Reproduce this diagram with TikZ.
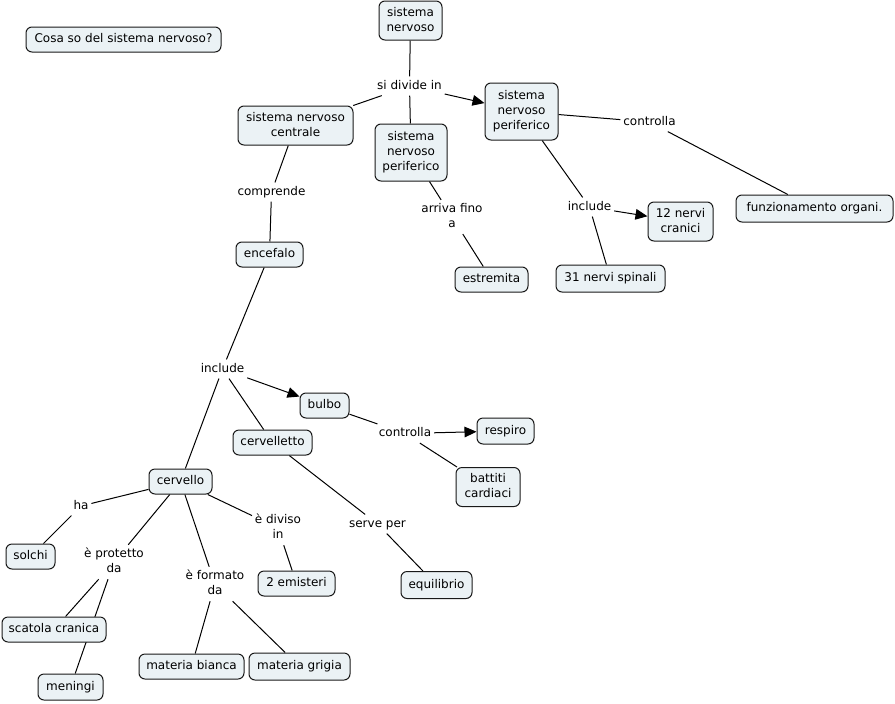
\documentclass[tikz,border=0pt]{standalone}
\usepackage{fontspec}
\setmainfont{DejaVu Sans}
\usetikzlibrary{arrows.meta,backgrounds}
\definecolor{cfill}{RGB}{235,242,245}
\definecolor{cline}{RGB}{25,25,25}
\newcommand{\sr}{\rule[-2pt]{0pt}{9pt}}
\begin{document}
\begin{tikzpicture}[x=0.75pt,y=-0.75pt,
  txt/.style={font=\fontsize{9pt}{11.25pt}\selectfont,align=center},
  concept/.style={txt,draw=cline,line width=0.75pt,fill=cfill,rounded corners=4.5pt,inner sep=0pt},
  sz/.style 2 args={minimum width=#1*0.75pt,minimum height=#2*0.75pt},
  lbl/.style={txt,inner xsep=2pt,inner ysep=2.5pt},
  link/.style={draw=black,line width=0.75pt},
  arr/.style={link,-{Triangle[length=9pt,width=8pt]}}]
\path[use as bounding box] (0,0) rectangle (895,703);
% concepts
\node[concept,sz={195}{25}] (q) at (123.5,39.5) {\sr Cosa so del sistema nervoso?};
\node[concept,sz={63}{39}] (sn) at (410.5,20.5) {\sr sistema\\\sr nervoso};
\node[concept,sz={115}{39}] (snc) at (295.5,125.5) {\sr sistema nervoso\\\sr centrale};
\node[concept,sz={72}{57}] (snpm) at (411,152.5) {\sr sistema\\\sr nervoso\\\sr periferico};
\node[concept,sz={73}{57}] (snpr) at (521.5,111.5) {\sr sistema\\\sr nervoso\\\sr periferico};
\node[concept,sz={157}{27}] (fo) at (814.5,208.5) {\sr funzionamento organi.};
\node[concept,sz={65}{39}] (nc) at (680.5,221.5) {\sr 12 nervi\\\sr cranici};
\node[concept,sz={109}{27}] (ns) at (610.5,278.5) {\sr 31 nervi spinali};
\node[concept,sz={73}{25}] (es) at (491.5,279.5) {\sr estremita};
\node[concept,sz={67}{25}] (en) at (269.5,254.5) {\sr encefalo};
\node[concept,sz={49}{25}] (bu) at (324.5,405.5) {\sr bulbo};
\node[concept,sz={79}{25}] (ce) at (272.5,442.5) {\sr cervelletto};
\node[concept,sz={57}{26}] (re) at (505.5,431) {\sr respiro};
\node[concept,sz={64}{39}] (bc) at (488,487) {\sr battiti\\\sr cardiaci};
\node[concept,sz={71}{27}] (eq) at (436.5,585) {\sr equilibrio};
\node[concept,sz={63}{25}] (cv) at (180.5,481.5) {\sr cervello};
\node[concept,sz={49}{25}] (so) at (30.5,556.5) {\sr solchi};
\node[concept,sz={77}{25}] (em) at (296.5,583.5) {\sr 2 emisteri};
\node[concept,sz={104}{25}] (sc) at (54,629.5) {\sr scatola cranica};
\node[concept,sz={65}{26}] (me) at (70.5,687) {\sr meningi};
\node[concept,sz={105}{25}] (mb) at (191.5,666.5) {\sr materia bianca};
\node[concept,sz={101}{27}] (mg) at (299.5,666.5) {\sr materia grigia};
% linking phrases
\node[lbl] (l1) at (409.5,86) {\sr si divide in};
\node[lbl] (l2) at (649.5,122) {\sr controlla};
\node[lbl] (l3) at (589.5,207) {\sr include};
\node[lbl] (l4) at (452,217) {\sr arriva fino\\\sr a};
\node[lbl] (l5) at (271.5,192) {\sr comprende};
\node[lbl] (l6) at (222.5,369) {\sr include};
\node[lbl] (l7) at (405,433.5) {\sr controlla};
\node[lbl] (l8) at (377.5,524) {\sr serve per};
\node[lbl] (l9) at (81,506) {\sr ha};
\node[lbl] (l10) at (114,562) {\sr è protetto\\\sr da};
\node[lbl] (l11) at (278,528) {\sr è diviso\\\sr in};
\node[lbl] (l12) at (215,584) {\sr è formato\\\sr da};
\begin{pgfonlayer}{background}
\fill[white] (0,0) rectangle (895,703);
\draw[link] (sn) -- (l1);
\draw[link] (l1) -- (snc);
\draw[link] (l1) -- (snpm);
\draw[arr] (l1) -- (snpr);
\draw[link] (snpr) -- (l2);
\draw[link] (l2) -- (fo);
\draw[link] (snpr) -- (l3);
\draw[arr] (l3) -- (nc);
\draw[link] (l3) -- (ns);
\draw[link] (snpm) -- (l4);
\draw[link] (l4) -- (es);
\draw[link] (snc) -- (l5);
\draw[link] (l5) -- (en);
\draw[link] (en) -- (l6);
\draw[arr] (l6) -- (bu);
\draw[link] (l6) -- (ce);
\draw[link] (l6) -- (cv);
\draw[link] (bu) -- (l7);
\draw[arr] (l7) -- (re);
\draw[link] (l7) -- (bc);
\draw[link] (ce) -- (l8);
\draw[link] (l8) -- (eq);
\draw[link] (cv) -- (l9);
\draw[link] (l9) -- (so);
\draw[link] (cv) -- (l10);
\draw[link] (l10) -- (sc);
\draw[link] (l10) -- (me);
\draw[link] (cv) -- (l11);
\draw[link] (l11) -- (em);
\draw[link] (cv) -- (l12);
\draw[link] (l12) -- (mb);
\draw[link] (l12) -- (mg);
\end{pgfonlayer}
\end{tikzpicture}
\end{document}
